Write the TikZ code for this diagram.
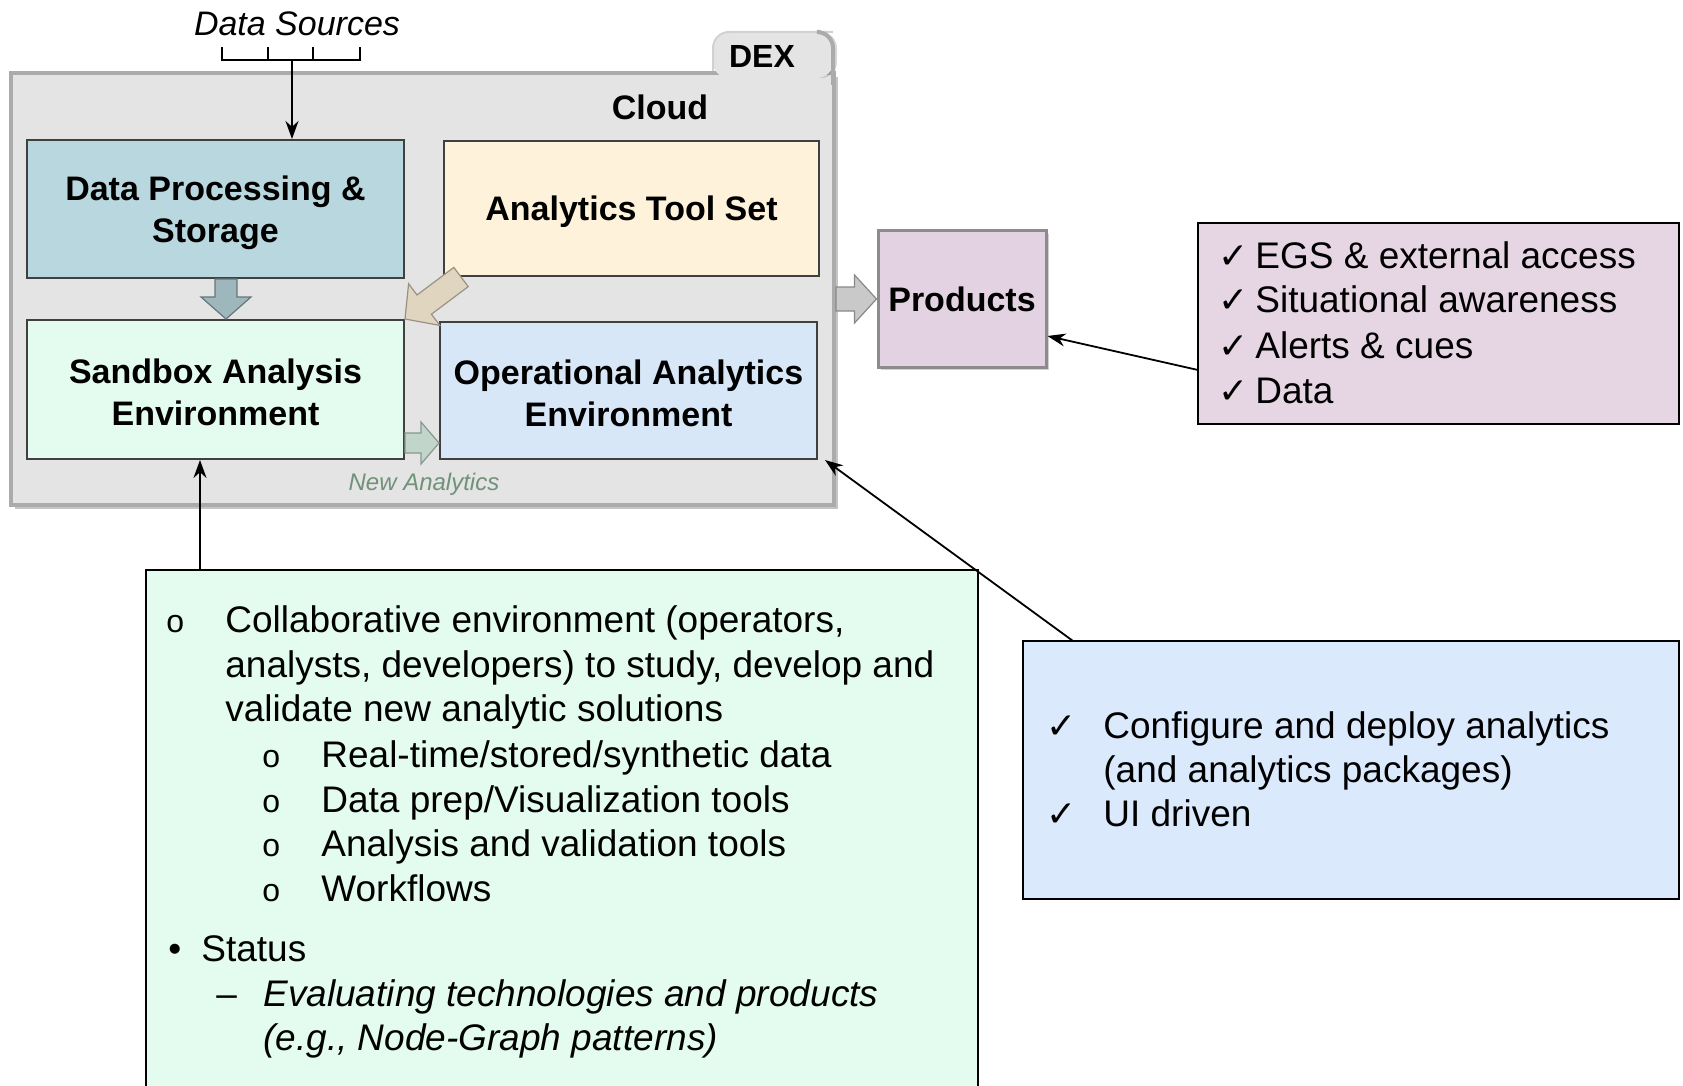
\documentclass[tikz,border=0pt]{standalone}
\usepackage{fontspec}
\setmainfont{Liberation Sans}
\newfontfamily\dejavu{DejaVu Sans}
\usetikzlibrary{arrows.meta,shadows,calc}
\definecolor{cloudfill}{HTML}{E4E4E4}
\definecolor{cloudline}{HTML}{ABABAB}
\definecolor{dpsfill}{HTML}{B9D7DE}
\definecolor{atsfill}{HTML}{FEF3DA}
\definecolor{sbfill}{HTML}{E4FBEF}
\definecolor{oaefill}{HTML}{D7E7F8}
\definecolor{prodfill}{HTML}{E3D2E1}
\definecolor{plistfill}{HTML}{E6D6E4}
\definecolor{greenfill}{HTML}{E3FCEF}
\definecolor{bluefill}{HTML}{DAE9FB}
\definecolor{newan}{HTML}{6F9279}
\newcommand\blockarr[7]{%
  \coordinate (ba-a) at #3;
  \coordinate (ba-b) at #4;
  \coordinate (ba-h) at ($(ba-b)!#7!(ba-a)$);
  \filldraw[fill=#1,draw=#2,line width=0.6pt,line join=miter]
   ($(ba-a)!#5!90:(ba-b)$) -- ($(ba-h)!#5!90:(ba-b)$) -- ($(ba-h)!#6!90:(ba-b)$) --
   (ba-b) -- ($(ba-h)!#6!-90:(ba-b)$) -- ($(ba-h)!#5!-90:(ba-b)$) --
   ($(ba-a)!#5!-90:(ba-b)$) -- cycle;}
\begin{document}
\begin{tikzpicture}[x=0.5pt,y=-0.5pt,
  inbox/.style={draw=black!75,line width=1pt,inner sep=0pt},
  boxtext/.style={align=center,inner sep=0pt,font=\bfseries\fontsize{17}{21}\selectfont},
  listbox/.style={draw=black,line width=1pt,inner sep=0pt},
  body/.style={font=\fontsize{18.5}{22.5}\selectfont,anchor=base west,inner sep=0pt},
  chk/.style={font=\dejavu\fontsize{18}{18}\selectfont,anchor=base west,inner sep=0pt},
  sbul/.style={font=\fontsize{16}{16}\selectfont,anchor=base west,inner sep=0pt},
  thinarrow/.style={-{Stealth[length=9pt,width=6.5pt]},line width=0.9pt,black}]
\clip (0,0) rectangle (1683,1086);
\fill[white] (0,0) rectangle (1683,1086);

% cloud and DEX tab
\node[draw=cloudline,line width=2pt,fill=cloudfill,minimum width=411.5pt,minimum height=216pt,
  drop shadow={shadow xshift=2pt,shadow yshift=-2pt,opacity=0.45}] (cloud) at (422.5,289) {};
\fill[cloudfill,rounded corners=8pt,
  drop shadow={shadow xshift=2pt,shadow yshift=0pt,opacity=0.3}]
  (713,78) -- (713,32) -- (833,32) -- (833,78) -- cycle;
\draw[cloudline!55,line width=1pt,rounded corners=8pt] (713,71) -- (713,32) -- (833,32);
\draw[cloudline,line width=2pt,rounded corners=8pt] (820,32) -- (833,32) -- (833,85);
\node[font=\bfseries\fontsize{16}{16}\selectfont] (dex) at (762,56) {DEX};
\node[font=\bfseries\fontsize{17}{17}\selectfont] (cloudlbl) at (660,107) {Cloud};

% data sources
\node[font=\itshape\fontsize{17}{17}\selectfont] (ds) at (297,24) {Data Sources};
\draw[line width=0.9pt] (222,47) -- (222,60) -- (360,60) -- (360,47);
\draw[line width=0.9pt] (268,47) -- (268,60) (313,47) -- (313,60);
\coordinate (br) at (292,60);

% inner boxes
\node[inbox,fill=dpsfill,minimum width=188.5pt,minimum height=69pt] (dps) at (215.5,209) {};
\node[inbox,fill=atsfill,minimum width=187.5pt,minimum height=67.5pt] (ats) at (631.5,208.5) {};
\node[inbox,fill=sbfill,minimum width=188.5pt,minimum height=69.5pt] (sandbox) at (215.5,389.5) {};
\node[inbox,fill=oaefill,minimum width=188.5pt,minimum height=68.5pt] (oae) at (628.5,390.5) {};
\node[boxtext] (dpst) at ([yshift=-1.8pt]dps.center) {Data Processing \&\\Storage};
\node[boxtext] (atst) at ([yshift=-1.8pt]ats.center) {Analytics Tool Set};
\node[boxtext] (sbt) at ([yshift=-1.2pt]sandbox.center) {Sandbox Analysis\\Environment};
\node[boxtext] (oaet) at ([yshift=-1.2pt]oae.center) {Operational Analytics\\Environment};
\node[draw=black!45,line width=1.5pt,fill=prodfill,minimum width=84pt,minimum height=68pt,
  font=\bfseries\fontsize{17}{17}\selectfont,
  drop shadow={shadow xshift=1.5pt,shadow yshift=-1.5pt,opacity=0.35}] (products) at (962,299) {Products};

\node[font=\itshape\fontsize{12}{12}\selectfont,text=newan] (newan) at (424,484) {New Analytics};

% block arrows
\blockarr{dpsfill!85!black}{dpsfill!55!black}{([xshift=5.25pt]dps.south)}{([xshift=5.25pt]sandbox.north)}{5.5pt}{12.5pt}{11pt}
\blockarr{atsfill!88!black}{atsfill!60!black}{([xshift=9pt]ats.south west)}{(sandbox.north east)}{6pt}{13pt}{12pt}
\coordinate (gA) at ([yshift=-26.75pt]sandbox.east);
\blockarr{sbfill!85!black}{sbfill!60!black}{(gA)}{(gA -| oae.west)}{5pt}{10.5pt}{9pt}
\blockarr{cloudfill!88!black}{cloudfill!60!black}{(cloud.east |- products.west)}{(products.west)}{6pt}{12pt}{11pt}

% data sources arrow
\draw[thinarrow] (br) -- (br |- dps.north);

% purple list
\node[listbox,fill=plistfill,minimum width=240.5pt,minimum height=100.5pt] (plist) at (1438.5,323.5) {};
\node[chk] (pc1) at (1218,268) {✓};
\node[body] (pt1) at (1255,268) {EGS \& external access};
\node[chk] (pc2) at (1218,313) {✓};
\node[body] (pt2) at (1255,313) {Situational awareness};
\node[chk] (pc3) at (1218,358) {✓};
\node[body] (pt3) at (1255,358) {Alerts \& cues};
\node[chk] (pc4) at (1218,403) {✓};
\node[body] (pt4) at (1255,403) {Data};
\coordinate (plA) at (1198,370);
\draw[thinarrow] (plA) -- ([yshift=-18.5pt]products.east);

% green box
\node[listbox,fill=greenfill,minimum width=416pt,minimum height=265pt] (green) at (562,835) {};
\node[sbul] (gb1) at (166,632) {o};
\node[body] (g1) at (225,632) {Collaborative environment (operators,};
\node[body] (g2) at (225,677) {analysts, developers) to study, develop and};
\node[body] (g3) at (225,721) {validate new analytic solutions};
\node[sbul] (gb2) at (262,767) {o};
\node[body] (g4) at (321,767) {Real-time/stored/synthetic data};
\node[sbul] (gb3) at (262,812) {o};
\node[body] (g5) at (321,812) {Data prep/Visualization tools};
\node[sbul] (gb4) at (262,856) {o};
\node[body] (g6) at (321,856) {Analysis and validation tools};
\node[sbul] (gb5) at (262,901) {o};
\node[body] (g7) at (321,901) {Workflows};
\node[body] (gb6) at (168,961) {•};
\node[body] (g8) at (201,961) {Status};
\node[body] (gb7) at (216,1006) {–};
\node[body,font=\itshape\fontsize{18.5}{22.5}\selectfont] (g9) at (263,1006) {Evaluating technologies and products};
\node[body,font=\itshape\fontsize{18.5}{22.5}\selectfont] (g10) at (263,1050) {(e.g., Node-Graph patterns)};
\coordinate (gS) at (200,570);
\draw[thinarrow] (gS) -- (gS |- sandbox.south);

% blue box
\node[listbox,fill=bluefill,minimum width=328pt,minimum height=129pt] (blue) at (1351,770) {};
\node[chk] (bc1) at (1046,738) {✓};
\node[body] (b1) at (1103,738) {Configure and deploy analytics};
\node[body] (b2) at (1103,782) {(and analytics packages)};
\node[chk] (bc2) at (1046,826) {✓};
\node[body] (b3) at (1103,826) {UI driven};
\coordinate (bS) at (1073,641);
\draw[thinarrow] (bS) -- ([xshift=3.5pt]oae.south east);
\end{tikzpicture}
\end{document}
